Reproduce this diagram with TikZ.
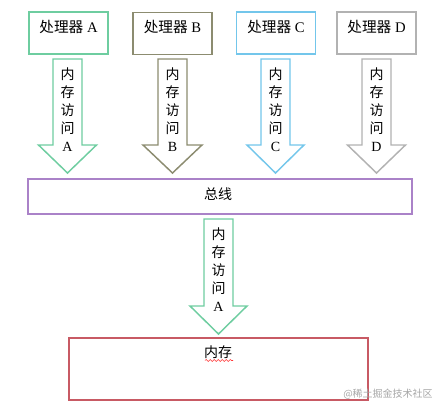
\documentclass[tikz,border=0pt]{standalone}
\usepackage{fontspec}
\setmainfont{Liberation Serif}
\newfontfamily\cjk{Noto Sans CJK SC}
\usetikzlibrary{decorations.pathmorphing}
\definecolor{cA}{RGB}{110,205,160}
\definecolor{cB}{RGB}{140,140,112}
\definecolor{cC}{RGB}{115,198,235}
\definecolor{cD}{RGB}{178,178,178}
\definecolor{cBus}{RGB}{170,130,200}
\definecolor{cMem}{RGB}{200,90,100}
\newcommand\blockarr[7]{%
  \draw[#7, line width=1.1pt, line join=miter, fill=white]
    ({#1-#2},#4) -- ({#1+#2},#4) -- ({#1+#2},#5) -- ({#1+#3},#5) -- (#1,#6)
    -- ({#1-#3},#5) -- ({#1-#2},#5) -- cycle;}
\begin{document}
\begin{tikzpicture}[x=0.75pt,y=-0.75pt,
  procbox/.style={draw=#1, line width=1.1pt, minimum width=59pt, minimum height=31.5pt, inner sep=0pt},
  proclabel/.style={font=\fontsize{11}{13}\selectfont, inner sep=0pt},
  arrtext/.style={align=center, font=\cjk\fontsize{10.5}{13.5}\selectfont, inner sep=0pt},
  cjklabel/.style={font=\cjk\fontsize{10.5}{13}\selectfont, inner sep=0pt}]
\useasboundingbox (0,0) rectangle (440,411);
% processors
\node[procbox=cA] (pA) at (68.5,33) {};
\node[procbox=cB] (pB) at (172.5,33.5) {};
\node[procbox=cC] (pC) at (276,33) {};
\node[procbox=cD] (pD) at (376.5,33) {};
\node[proclabel] (lA) at (68.5,27) {{\cjk 处理器} A};
\node[proclabel] (lB) at (172.5,27) {{\cjk 处理器} B};
\node[proclabel] (lC) at (276,27) {{\cjk 处理器} C};
\node[proclabel] (lD) at (376.5,27) {{\cjk 处理器} D};
% arrows to bus
\blockarr{67.5}{14.5}{29}{59}{145}{173}{cA}
\blockarr{172.5}{14.5}{29.5}{59}{145}{173}{cB}
\blockarr{275.5}{14.5}{28.5}{59}{145}{173}{cC}
\blockarr{376.5}{14.5}{29}{59}{145}{173}{cD}
\node[arrtext] (tA) at (67.5,110) {内\\存\\访\\问\\{\rmfamily A}};
\node[arrtext] (tB) at (172.5,110) {内\\存\\访\\问\\{\rmfamily B}};
\node[arrtext] (tC) at (275.5,110) {内\\存\\访\\问\\{\rmfamily C}};
\node[arrtext] (tD) at (376.5,110) {内\\存\\访\\问\\{\rmfamily D}};
% bus
\node[draw=cBus, line width=1.1pt, minimum width=288pt, minimum height=26.25pt, inner sep=0pt] (bus) at (220,196.5) {};
\node[cjklabel] (busl) at (218,194) {总线};
% arrow to memory
\blockarr{218.5}{14.5}{28.5}{219}{306}{334}{cA}
\node[arrtext] (tM) at (218.5,270) {内\\存\\访\\问\\{\rmfamily A}};
% memory
\node[draw=cMem, line width=1.1pt, minimum width=224.25pt, minimum height=46.5pt, inner sep=0pt] (mem) at (218.5,369) {};
\node[cjklabel] (meml) at (218,352) {内存};
\draw[red!80, line width=0.4pt, decorate, decoration={snake, amplitude=0.8pt, segment length=3pt}] (205,360.5) -- (233,360.5);
% watermark
\node[font=\cjk\fontsize{7.5}{9}\selectfont, text=black!35, inner sep=0pt] (wm) at (388,394) {@稀土掘金技术社区};
\end{tikzpicture}
\end{document}
